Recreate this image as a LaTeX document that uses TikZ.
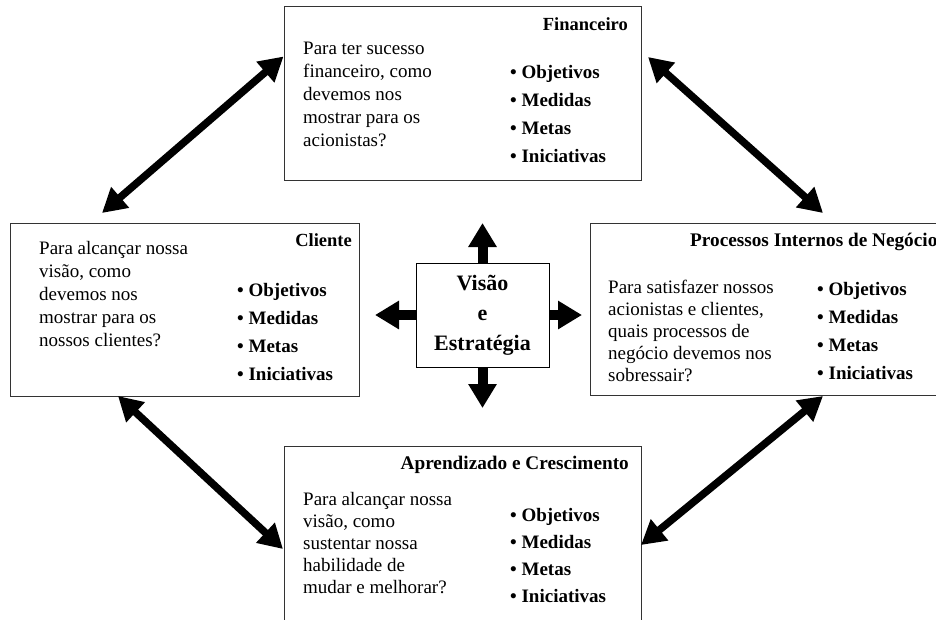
\documentclass[tikz,border=0pt]{standalone}
\usepackage{fontspec}
\setmainfont{Liberation Serif}
\usetikzlibrary{arrows.meta,calc}
\begin{document}
\begin{tikzpicture}[x=1pt,y=-1pt,
  box/.style={draw=black!80, line width=1pt, inner sep=0pt},
  qtext/.style={anchor=north west, align=left, inner sep=0pt, font=\fontsize{19pt}{23pt}\selectfont},
  blist/.style={anchor=north west, align=left, inner sep=0pt, font=\fontsize{19pt}{28pt}\selectfont\bfseries},
  head/.style={inner sep=0pt, font=\fontsize{18.5pt}{22pt}\selectfont\bfseries},
  bighead/.style={inner sep=0pt, font=\fontsize{19.25pt}{22pt}\selectfont\bfseries},
  dbl/.style={line width=7.5pt, {Triangle[length=24pt,width=26pt]}-{Triangle[length=24pt,width=26pt]}},
  sgl/.style={line width=10pt, -{Triangle[length=24pt,width=27pt]}},
]
\useasboundingbox (0,0) rectangle (936,619);
\fill[white] (0,0) rectangle (936,619);

% boxes
\node[box, minimum width=357pt, minimum height=174pt] (fin) at (462.5,93) {};
\node[box, minimum width=349pt, minimum height=173pt] (cli) at (184.5,309.5) {};
\node[box, minimum width=360pt, minimum height=172pt] (pro) at (770,309) {};
\node[box, minimum width=357pt, minimum height=178pt] (apr) at (462.5,535) {};

% Financeiro
\node[head, anchor=base east] (finh) at (628,30) {Financeiro};
\node[qtext] (finq) at (303,42) {Para ter sucesso\\financeiro, como\\devemos nos\\mostrar para os\\acionistas?};
\node[blist] (finb) at (510,65) {• Objetivos\\• Medidas\\• Metas\\• Iniciativas};

% Cliente
\node[head, anchor=base east] (clih) at (352,246) {Cliente};
\node[qtext] (cliq) at (39,241) {Para alcançar nossa\\visão, como\\devemos nos\\mostrar para os\\nossos clientes?};
\node[blist] (clib) at (237,283) {• Objetivos\\• Medidas\\• Metas\\• Iniciativas};

% Processos
\node[bighead, anchor=base west] (proh) at (690,246) {Processos Internos de Negócio};
\node[qtext, font=\fontsize{19pt}{22pt}\selectfont] (proq) at (608,280) {Para satisfazer nossos\\acionistas e clientes,\\quais processos de\\negócio devemos nos\\sobressair?};
\node[blist] (prob) at (817,282) {• Objetivos\\• Medidas\\• Metas\\• Iniciativas};

% Aprendizado
\node[bighead, anchor=base east] (aprh) at (629,469) {Aprendizado e Crescimento};
\node[qtext, font=\fontsize{19pt}{22pt}\selectfont] (aprq) at (303,492) {Para alcançar nossa\\visão, como\\sustentar nossa\\habilidade de\\mudar e melhorar?};
\node[blist, font=\fontsize{19pt}{27pt}\selectfont\bfseries] (aprb) at (510,508) {• Objetivos\\• Medidas\\• Metas\\• Iniciativas};

% centre
\node[box, draw=black, minimum width=133pt, minimum height=104pt, align=center,
      font=\fontsize{22pt}{30pt}\selectfont\bfseries] (vis) at (482.5,315) {Visão\\e\\Estratégia};

\coordinate (tu) at (482.5,223);
\coordinate (td) at (482.5,408);
\coordinate (tl) at (375,315);
\coordinate (tr) at (582,315);
\draw[sgl] (vis.north) -- (tu);
\draw[sgl] (vis.south) -- (td);
\draw[sgl] (vis.west) -- (tl);
\draw[sgl] (vis.east) -- (tr);

% diagonal connectors
\coordinate (d1a) at (102,213);
\coordinate (d1b) at ($(fin.north west)+(0,51)$);
\coordinate (d2a) at (648,57);
\coordinate (d2b) at (823,213);
\coordinate (d3a) at (118,396);
\coordinate (d3b) at (283,549);
\coordinate (d4a) at (823,396);
\coordinate (d4b) at (641,545);
\draw[dbl] (d1a) -- (d1b);
\draw[dbl] (d2a) -- (d2b);
\draw[dbl] (d3a) -- (d3b);
\draw[dbl] (d4a) -- (d4b);
\end{tikzpicture}
\end{document}
